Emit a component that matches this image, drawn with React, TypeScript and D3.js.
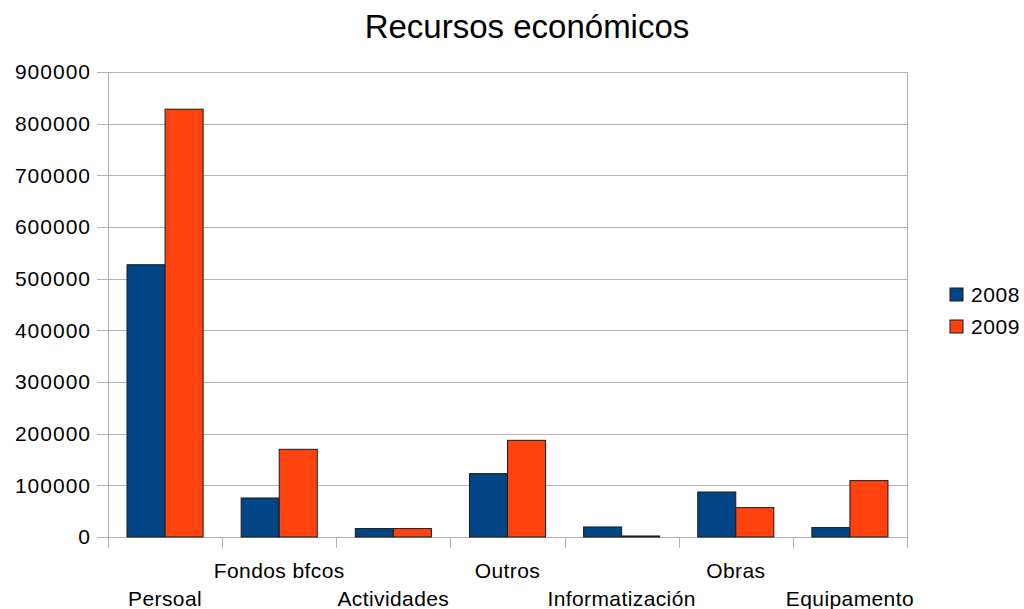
import { useEffect, useRef } from "react";
import * as d3 from "d3";

const categories = ["Persoal", "Fondos bfcos", "Actividades", "Outros", "Informatización", "Obras", "Equipamento"];
const series = ["2008", "2009"];
const values2008 = [527000, 75500, 16300, 122700, 19400, 87100, 18200];
const values2009 = [828000, 169700, 16300, 187100, 2000, 56900, 109100];
const yTicks = [0, 100000, 200000, 300000, 400000, 500000, 600000, 700000, 800000, 900000];
const colors = ["#004586", "#ff420e"];

const App: React.FC = () => {
  const svgRef = useRef<SVGSVGElement>(null);

  useEffect(() => {
    const svg = d3.select(svgRef.current);
    svg.selectAll("*").remove();

    const width = 1024;
    const height = 609;
    const left = 108, right = 907, top = 72, bottom = 537;
    const font = "'Liberation Sans', Arial, sans-serif";
    const grey = "#b3b3b3";

    const x = d3.scaleBand<string>().domain(categories).range([left, right]).padding(0);
    const bw = x.bandwidth();
    const xs = d3.scaleBand<string>().domain(series).range([bw / 6, (bw * 5) / 6]).padding(0);
    const y = d3.scaleLinear().domain([0, 900000]).range([bottom, top]);

    svg.attr("width", width).attr("height", height);

    svg.append("text").attr("x", 527).attr("y", 38).attr("text-anchor", "middle")
      .attr("font-family", font).attr("font-size", 33).attr("fill", "#000").text("Recursos económicos");

    // grid + y ticks
    const g = svg.append("g");
    g.selectAll("line.grid").data(yTicks).join("line")
      .attr("x1", left - 11).attr("x2", right)
      .attr("y1", (d) => Math.round(y(d)) + 0.5).attr("y2", (d) => Math.round(y(d)) + 0.5)
      .attr("stroke", grey).attr("stroke-width", 1);
    g.selectAll("text.ytick").data(yTicks).join("text")
      .attr("x", 91).attr("y", (d) => y(d)).attr("dy", "0.35em").attr("text-anchor", "end")
      .attr("font-family", font).attr("font-size", 21).attr("letter-spacing", 1).attr("fill", "#000")
      .text((d) => String(d));

    // axes lines
    svg.append("line").attr("x1", left + 0.5).attr("x2", left + 0.5).attr("y1", top).attr("y2", bottom + 11)
      .attr("stroke", grey);
    svg.append("line").attr("x1", right + 0.5).attr("x2", right + 0.5).attr("y1", top).attr("y2", bottom + 11)
      .attr("stroke", grey);
    const bounds = categories.map((c) => x(c) as number);
    svg.selectAll("line.xtick").data(bounds.slice(1)).join("line")
      .attr("x1", (d) => Math.round(d) + 0.5).attr("x2", (d) => Math.round(d) + 0.5)
      .attr("y1", bottom).attr("y2", bottom + 11).attr("stroke", grey);

    // bars
    const data = [values2008, values2009];
    series.forEach((s, si) => {
      svg.append("g").selectAll("rect").data(categories).join("rect")
        .attr("x", (c) => (x(c) as number) + (xs(s) as number))
        .attr("y", (c, i) => y(data[si][i]))
        .attr("width", xs.bandwidth())
        .attr("height", (c, i) => bottom - y(data[si][i]))
        .attr("fill", colors[si]).attr("stroke", "#1a1a1a").attr("stroke-width", 1);
    });

    // x labels, staggered
    svg.selectAll("text.xlab").data(categories).join("text")
      .attr("x", (c) => (x(c) as number) + bw / 2)
      .attr("y", (c, i) => (i % 2 === 0 ? 606 : 578))
      .attr("text-anchor", "middle").attr("font-family", font).attr("font-size", 21)
      .attr("letter-spacing", 0.4).attr("fill", "#000")
      .text((c) => c);

    // legend
    series.forEach((s, si) => {
      const ly = 288 + si * 32;
      svg.append("rect").attr("x", 950).attr("y", ly).attr("width", 13).attr("height", 13)
        .attr("fill", colors[si]).attr("stroke", "#1a1a1a");
      svg.append("text").attr("x", 971).attr("y", ly + 7).attr("dy", "0.35em")
        .attr("font-family", font).attr("font-size", 21).attr("letter-spacing", 0.6).attr("fill", "#000").text(s);
    });
  }, []);

  return <svg ref={svgRef} style={{ position: "absolute", left: 0, top: 0 }} width={1024} height={609}></svg>;
};

export default App;
